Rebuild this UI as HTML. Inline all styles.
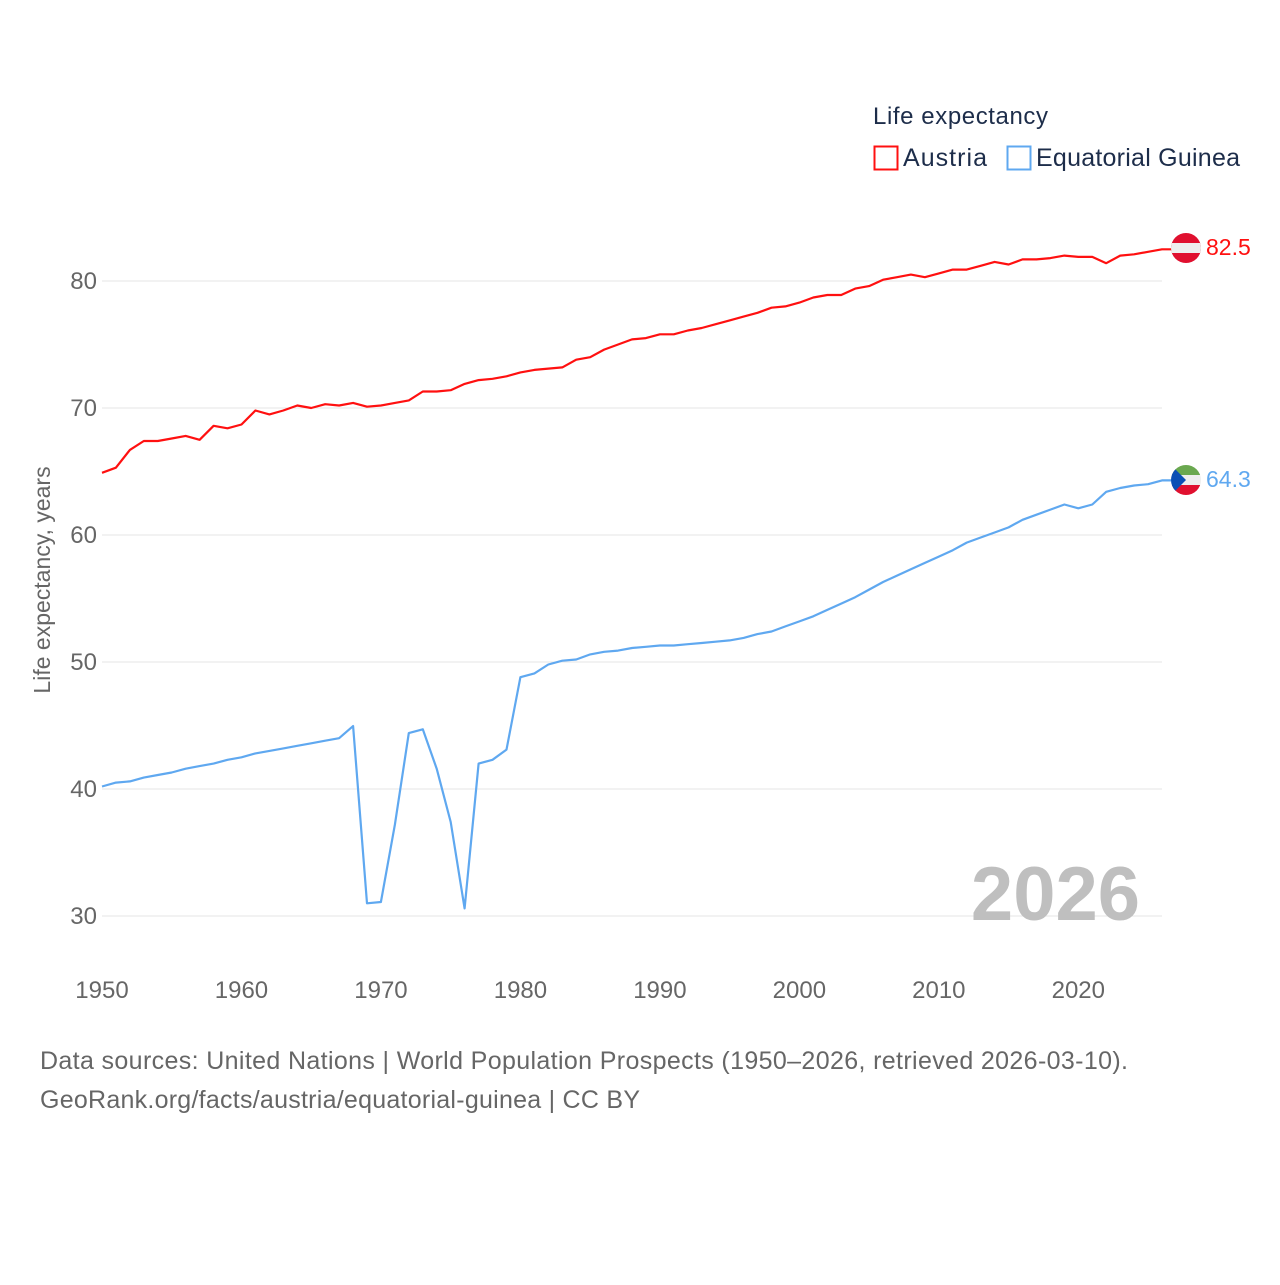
<!DOCTYPE html>
<html><head><meta charset="utf-8"><style>
body{margin:0;background:#fff;}
svg text{font-family:"Liberation Sans",sans-serif;}
</style></head><body>
<svg width="1280" height="1280" viewBox="0 0 1280 1280">
<g id="grid"></g><g id="ticks"></g><g id="lines"></g>
<text x="873" y="124" font-size="24" fill="#1d2d4a" textLength="175">Life expectancy</text>
<g><rect x="874.5" y="146.5" width="23" height="23" fill="none" stroke="#ff1010" stroke-width="2"/><text x="903" y="166" font-size="25" fill="#1d2d4a" textLength="84">Austria</text></g>
<g><rect x="1007.5" y="146.5" width="23" height="23" fill="none" stroke="#5fa8f0" stroke-width="2"/><text x="1036" y="166" font-size="25" fill="#1d2d4a" textLength="204">Equatorial Guinea</text></g>
<text transform="translate(50,580) rotate(-90)" text-anchor="middle" font-size="23" fill="#666">Life expectancy, years</text>
<text x="1140" y="920" text-anchor="end" font-size="76" font-weight="bold" fill="#bfbfbf">2026</text>
<text x="40" y="1069" font-size="25" fill="#666" textLength="1088">Data sources: United Nations | World Population Prospects (1950–2026, retrieved 2026-03-10).</text>
<text x="40" y="1108" font-size="25" fill="#666" textLength="600">GeoRank.org/facts/austria/equatorial-guinea | CC BY</text>
<defs>
<clipPath id="c1"><circle cx="1186" cy="248" r="15"/></clipPath>
<clipPath id="c2"><circle cx="1186" cy="480" r="15"/></clipPath>
</defs>
<g clip-path="url(#c1)"><rect x="1170" y="232" width="32" height="32" fill="#e0102f"/><rect x="1170" y="243" width="32" height="10" fill="#eee"/></g>
<g clip-path="url(#c2)"><rect x="1170" y="464" width="32" height="11" fill="#6aa84f"/><rect x="1170" y="475" width="32" height="10" fill="#eee"/><rect x="1170" y="485" width="32" height="11" fill="#e0102f"/><polygon points="1170,464 1186,480 1170,496" fill="#0a4fb5"/></g>
<text x="1206" y="255" font-size="23" fill="#ff1010">82.5</text>
<text x="1206" y="487" font-size="23" fill="#5fa8f0">64.3</text>
</svg>
<script>
const years=[];for(let y=1950;y<=2026;y++)years.push(y);
const austria=[64.9,65.3,66.7,67.4,67.4,67.6,67.8,67.5,68.6,68.4,68.7,69.8,69.5,69.8,70.2,70.0,70.3,70.2,70.4,70.1,70.2,70.4,70.6,71.3,71.3,71.4,71.9,72.2,72.3,72.5,72.8,73.0,73.1,73.2,73.8,74.0,74.6,75.0,75.4,75.5,75.8,75.8,76.1,76.3,76.6,76.9,77.2,77.5,77.9,78.0,78.3,78.7,78.9,78.9,79.4,79.6,80.1,80.3,80.5,80.3,80.6,80.9,80.9,81.2,81.5,81.3,81.7,81.7,81.8,82.0,81.9,81.9,81.4,82.0,82.1,82.3,82.5];
const eqGuinea=[40.2,40.5,40.6,40.9,41.1,41.3,41.6,41.8,42.0,42.3,42.5,42.8,43.0,43.2,43.4,43.6,43.8,44.0,44.95,31.0,31.1,37.2,44.4,44.7,41.6,37.4,30.6,42.0,42.3,43.1,48.8,49.1,49.8,50.1,50.2,50.6,50.8,50.9,51.1,51.2,51.3,51.3,51.4,51.5,51.6,51.7,51.9,52.2,52.4,52.8,53.2,53.6,54.1,54.6,55.1,55.7,56.3,56.8,57.3,57.8,58.3,58.8,59.4,59.8,60.2,60.6,61.2,61.6,62.0,62.4,62.1,62.4,63.4,63.7,63.9,64.0,64.3];
const yTicks=[30,40,50,60,70,80];
const xTicks=[1950,1960,1970,1980,1990,2000,2010,2020];
const NS="http://www.w3.org/2000/svg";
function xs(y){return 102+(y-1950)*(1162-102)/76;}
function ys(v){return 281+(80-v)*12.7;}
const grid=document.getElementById('grid'),ticks=document.getElementById('ticks'),lines=document.getElementById('lines');
yTicks.forEach(t=>{
 const l=document.createElementNS(NS,'line');
 l.setAttribute('x1',102);l.setAttribute('x2',1162);l.setAttribute('y1',ys(t));l.setAttribute('y2',ys(t));
 l.setAttribute('stroke','#e6e6e6');l.setAttribute('stroke-width','1');
 
 
 grid.appendChild(l);
 const tx=document.createElementNS(NS,'text');
 tx.setAttribute('x',97);tx.setAttribute('y',ys(t)+8);tx.setAttribute('text-anchor','end');
 tx.setAttribute('font-size','24');tx.setAttribute('fill','#666');tx.textContent=t;
 
 
 ticks.appendChild(tx);
});
xTicks.forEach(t=>{
 const tx=document.createElementNS(NS,'text');
 tx.setAttribute('x',xs(t));tx.setAttribute('y',998);tx.setAttribute('text-anchor','middle');
 tx.setAttribute('font-size','24');tx.setAttribute('fill','#666');tx.textContent=t;
 
 
 ticks.appendChild(tx);
});
function draw(vals,color,name){
 const p=document.createElementNS(NS,'polyline');
 let pts=vals.map((v,i)=>xs(years[i]).toFixed(1)+','+ys(v).toFixed(1));
 pts.push((xs(2026)+10)+','+ys(vals[vals.length-1]).toFixed(1));
 p.setAttribute('points',pts.join(' '));
 p.setAttribute('fill','none');p.setAttribute('stroke',color);p.setAttribute('stroke-width','2.2');p.setAttribute('stroke-linejoin','round');
 
 
 lines.appendChild(p);
}
draw(austria,'#ff1010','austria-line');
draw(eqGuinea,'#5fa8f0','equatorial-guinea-line');
</script>
</body></html>
